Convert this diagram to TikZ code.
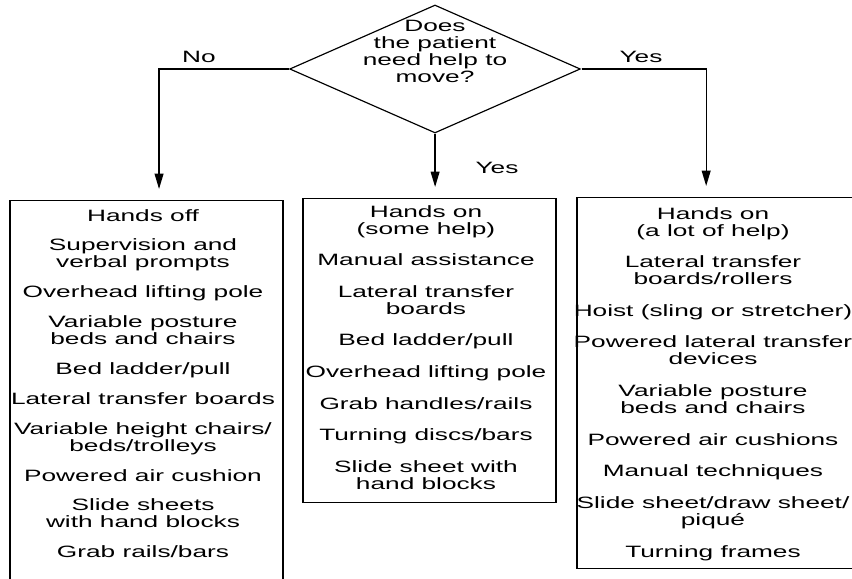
\documentclass[tikz,border=0pt]{standalone}
\usepackage{fontspec}
\setmainfont{Liberation Sans}
\usetikzlibrary{arrows.meta,shapes.geometric}

\begin{document}
\begin{tikzpicture}[
  x=0.01875cm, y=-0.03cm, xscale=1.6,
  >={Triangle[length=13pt,width=7.5pt]},
  every node/.style={transform shape, font=\fontsize{14}{14.5}\selectfont},
  listbox/.style={draw, line width=1.1pt, anchor=north west, inner sep=0pt},
  listtext/.style={anchor=north, align=center, inner sep=0pt},
  decision/.style={draw, diamond, line width=1pt, inner sep=0pt,
    minimum width=5.456cm, minimum height=3.84cm},
  link/.style={->, line width=1.1pt, shorten >=0.33cm}
  ]
\useasboundingbox (0,0) rectangle (852,579);
\clip (0,0) rectangle (852,579);
\node [decision] (q) at (435,69) {};
\node [align=center, inner sep=0pt] (qtext) at (435,51)
  {Does\\the patient\\need help to\\move?};
\node [listbox, minimum width=5.119cm, minimum height=12cm] (boxL) at (9,200) {};
\node [listbox, minimum width=4.744cm, minimum height=9.12cm] (boxM) at (302,198) {};
\node [listbox, minimum width=5.7cm, minimum height=11.13cm] (boxR) at (576,197) {};
\node [listtext] (off) at (143,209) {Hands off\\[11pt]
  Supervision and\\verbal prompts\\[11pt]
  Overhead lifting pole\\[11pt]
  Variable posture\\beds and chairs\\[11pt]
  Bed ladder/pull\\[11pt]
  Lateral transfer boards\\[11pt]
  Variable height chairs/\\beds/trolleys\\[11pt]
  Powered air cushion\\[11pt]
  Slide sheets\\with hand blocks\\[11pt]
  Grab rails/bars};
\node [listtext] (some) at (426,205) {Hands on\\(some help)\\[12.5pt]
  Manual assistance\\[12.5pt]
  Lateral transfer\\boards\\[12.5pt]
  Bed ladder/pull\\[12.5pt]
  Overhead lifting pole\\[12.5pt]
  Grab handles/rails\\[12.5pt]
  Turning discs/bars\\[12.5pt]
  Slide sheet with\\hand blocks};
\node [listtext] (lot) at (713,207) {Hands on\\(a lot of help)\\[12.5pt]
  Lateral transfer\\boards/rollers\\[12.5pt]
  Hoist (sling or stretcher)\\[12.5pt]
  Powered lateral transfer\\devices\\[12.5pt]
  Variable posture\\beds and chairs\\[12.5pt]
  Powered air cushions\\[12.5pt]
  Manual techniques\\[12.5pt]
  Slide sheet/draw sheet/\\piqué\\[12.5pt]
  Turning frames};
\coordinate (nl) at (159,69);
\coordinate (nr) at (706,69);
\draw [link] (q.west) -- (nl) -- (nl |- boxL.north);
\draw [link] (q.south) -- (q.south |- boxM.north);
\draw [link] (q.east) -- (nr) -- (nr |- boxR.north);
\node (no) at (199,57) {No};
\node (yesR) at (641,57) {Yes};
\node (yesM) at (497,168) {Yes};
\end{tikzpicture}
\end{document}
